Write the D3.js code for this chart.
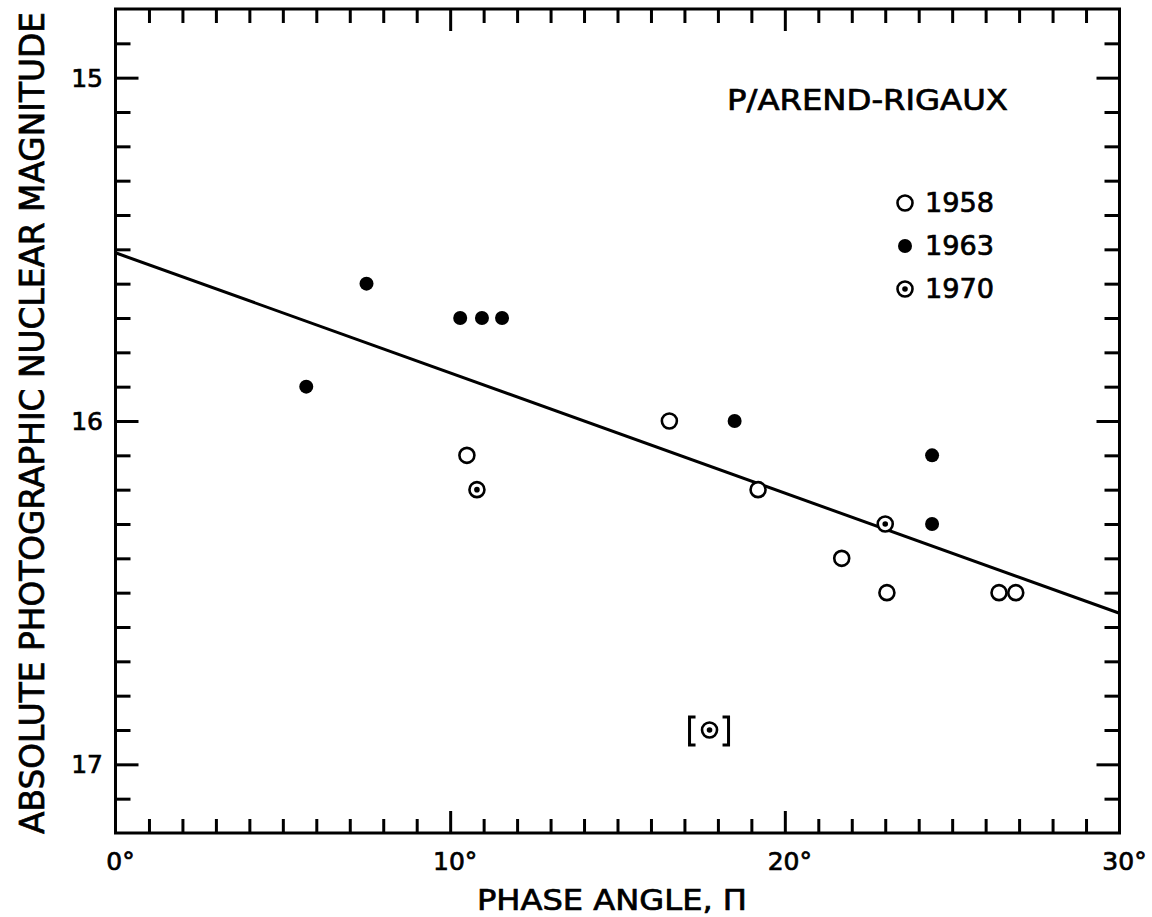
<!DOCTYPE html>
<html><head><meta charset="utf-8">
<script src="https://cdn.jsdelivr.net/npm/d3@7"></script>
<style>
body{margin:0;background:#fff;}
svg{display:block;background:#fff;}
text{font-family:"DejaVu Sans",sans-serif;fill:#000;stroke:#000;stroke-width:0.7px;}
</style>
</head><body>
<svg id="c" width="1152" height="917"></svg>
<script>
// ---- data ----
const seriesNames = ["1958", "1963", "1970"];
const phase1958 = [10.5, 16.55, 19.2, 21.7, 23.05, 26.4, 26.9];
const mag1958   = [16.1, 16.0, 16.2, 16.4, 16.5, 16.5, 16.5];
const phase1963 = [5.7, 7.5, 10.3, 10.95, 11.55, 18.5, 24.4, 24.4];
const mag1963   = [15.9, 15.6, 15.7, 15.7, 15.7, 16.0, 16.1, 16.3];
const phase1970 = [10.8, 23.0, 17.75];
const mag1970   = [16.2, 16.3, 16.9];
const bracketed1970 = [false, false, true];
const fitPhase = [0, 30];
const fitMag = [15.51, 16.56];
const xMajorTicks = [0, 10, 20, 30];
const xTickLabels = ["0°", "10°", "20°", "30°"];
const yMajorTicks = [15, 16, 17];
const yTickLabels = ["15", "16", "17"];
const chartTitle = "P/AREND-RIGAUX";
const xTitle = "PHASE ANGLE, Π";
const yTitle = "ABSOLUTE PHOTOGRAPHIC NUCLEAR MAGNITUDE";

// ---- layout ----
const L = 115.5, R = 1119.5, T = 9, B = 833;
const svg = d3.select("#c");
const x = d3.scaleLinear().domain([0, 30]).range([L, R]);
const y = d3.scaleLinear().domain([14.8, 17.2]).range([T, B]);

const xMinor = d3.range(1, 30).filter(v => !xMajorTicks.includes(v));
const yMinor = d3.range(14.9, 17.2, 0.1).map(v => +v.toFixed(1)).filter(v => !yMajorTicks.includes(v) && v < 17.2);

function styleAxis(g) {
  g.select(".domain").remove();
  g.selectAll(".tick line").attr("stroke", "#000").attr("stroke-width", 3);
  g.selectAll("text").remove();
}
// bottom
svg.append("g").attr("transform", `translate(0,${B})`)
  .call(d3.axisBottom(x).tickValues(xMinor).tickSize(-14)).call(styleAxis);
svg.append("g").attr("transform", `translate(0,${B})`)
  .call(d3.axisBottom(x).tickValues([10, 20]).tickSize(-22)).call(styleAxis);
// top
svg.append("g").attr("transform", `translate(0,${T})`)
  .call(d3.axisTop(x).tickValues(xMinor).tickSize(-14)).call(styleAxis);
svg.append("g").attr("transform", `translate(0,${T})`)
  .call(d3.axisTop(x).tickValues([10, 20]).tickSize(-22)).call(styleAxis);
// left
svg.append("g").attr("transform", `translate(${L},0)`)
  .call(d3.axisLeft(y).tickValues(yMinor).tickSize(-15)).call(styleAxis);
svg.append("g").attr("transform", `translate(${L},0)`)
  .call(d3.axisLeft(y).tickValues(yMajorTicks).tickSize(-23)).call(styleAxis);
// right
svg.append("g").attr("transform", `translate(${R},0)`)
  .call(d3.axisRight(y).tickValues(yMinor).tickSize(-15)).call(styleAxis);
svg.append("g").attr("transform", `translate(${R},0)`)
  .call(d3.axisRight(y).tickValues(yMajorTicks).tickSize(-23)).call(styleAxis);

// frame
svg.append("rect").attr("x", L).attr("y", T).attr("width", R - L).attr("height", B - T)
  .attr("fill", "none").attr("stroke", "#000").attr("stroke-width", 3);

// tick labels
svg.append("g").selectAll("text").data(xMajorTicks).join("text")
  .attr("x", d => x(d) + 5).attr("y", 870)
  .attr("text-anchor", "middle").attr("font-size", 25)
  .text((d, i) => xTickLabels[i]);
svg.append("g").selectAll("text").data(yMajorTicks).join("text")
  .attr("x", 103).attr("y", d => y(d)).attr("dy", "0.36em")
  .attr("text-anchor", "end").attr("font-size", 25)
  .text((d, i) => yTickLabels[i]);

// titles
svg.append("text").attr("x", 612).attr("y", 910).attr("text-anchor", "middle")
  .attr("font-size", 28).attr("textLength", 270).attr("lengthAdjust", "spacingAndGlyphs")
  .text(xTitle);
svg.append("text").attr("transform", "translate(44,423) rotate(-90)").attr("text-anchor", "middle")
  .attr("font-size", 33).attr("textLength", 822).attr("lengthAdjust", "spacingAndGlyphs")
  .text(yTitle);
svg.append("text").attr("x", 727).attr("y", 110)
  .attr("font-size", 28).attr("textLength", 281).attr("lengthAdjust", "spacingAndGlyphs")
  .text(chartTitle);

// fit line
const line = d3.line().x(d => x(d[0])).y(d => y(d[1]));
svg.append("path").datum(fitPhase.map((p, i) => [p, fitMag[i]]))
  .attr("d", line).attr("fill", "none").attr("stroke", "#000").attr("stroke-width", 3);

// markers
function drawOpen(g, cx, cy) {
  g.append("circle").attr("cx", cx).attr("cy", cy).attr("r", 7.5)
    .attr("fill", "#fff").attr("stroke", "#000").attr("stroke-width", 2.6);
}
function drawFilled(g, cx, cy) {
  g.append("circle").attr("cx", cx).attr("cy", cy).attr("r", 7).attr("fill", "#000");
}
function drawDotted(g, cx, cy) {
  g.append("circle").attr("cx", cx).attr("cy", cy).attr("r", 7.5)
    .attr("fill", "#fff").attr("stroke", "#000").attr("stroke-width", 2.6);
  g.append("circle").attr("cx", cx).attr("cy", cy).attr("r", 2.8).attr("fill", "#000");
}
const pts = svg.append("g");
phase1958.forEach((p, i) => drawOpen(pts, x(p), y(mag1958[i])));
phase1963.forEach((p, i) => drawFilled(pts, x(p), y(mag1963[i])));
phase1970.forEach((p, i) => {
  const cx = x(p), cy = y(mag1970[i]);
  drawDotted(pts, cx, cy);
  if (bracketed1970[i]) {
    pts.append("path").attr("d", `M${cx - 14},${cy - 13} h-6 v28 h6 M${cx + 13},${cy - 13} h6 v28 h-6`)
      .attr("fill", "none").attr("stroke", "#000").attr("stroke-width", 3);
  }
});

// legend
const drawers = [drawOpen, drawFilled, drawDotted];
const leg = svg.append("g");
seriesNames.forEach((s, i) => {
  const ly = 203 + i * 43;
  drawers[i](leg, 905, ly);
  leg.append("text").attr("x", 925).attr("y", ly + 9).attr("font-size", 26)
    .attr("textLength", 69).attr("lengthAdjust", "spacingAndGlyphs").text(s);
});
</script>
</body></html>
